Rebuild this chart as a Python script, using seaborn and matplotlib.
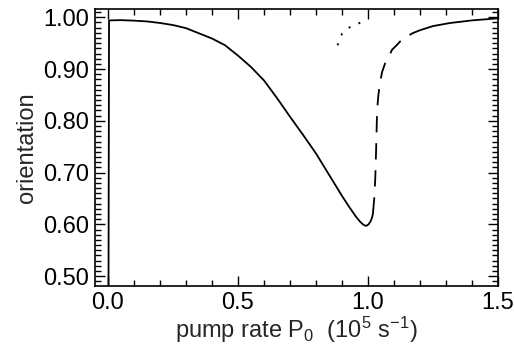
import matplotlib
matplotlib.use("Agg")
import matplotlib.pyplot as plt
import seaborn as sns
import pandas as pd
from matplotlib.ticker import MultipleLocator

# Stable lower branch (solid)
solid_x = [0.0, 0.004, 0.05, 0.10, 0.15, 0.20, 0.25, 0.30, 0.35, 0.40, 0.45, 0.50, 0.55,
           0.60, 0.65, 0.70, 0.75, 0.80, 0.85, 0.90, 0.93, 0.955, 0.97, 0.983, 0.993,
           1.002, 1.010, 1.016, 1.019]
solid_y = [0.0, 0.994, 0.9945, 0.9935, 0.992, 0.989, 0.985, 0.979, 0.969, 0.959, 0.946,
           0.926, 0.904, 0.878, 0.844, 0.808, 0.773, 0.737, 0.696, 0.655, 0.632, 0.614,
           0.605, 0.599, 0.597, 0.600, 0.606, 0.614, 0.621]
# Unstable branch (dashed)
dashed_x = [1.019, 1.024, 1.028, 1.031, 1.033, 1.035, 1.040, 1.046, 1.054, 1.065, 1.078,
            1.092, 1.11, 1.125, 1.143, 1.16, 1.175]
dashed_y = [0.621, 0.650, 0.690, 0.740, 0.780, 0.821, 0.850, 0.873, 0.894, 0.910, 0.921,
            0.937, 0.946, 0.954, 0.962, 0.966, 0.970]
# Upper stable branch (solid)
upper_x = [1.175, 1.20, 1.25, 1.316, 1.40, 1.45, 1.50]
upper_y = [0.970, 0.975, 0.983, 0.989, 0.994, 0.996, 0.998]
# Dotted branch
dotted_x = [0.883, 0.888, 0.893, 0.900, 0.909, 0.920, 0.935, 0.950, 0.962, 0.980, 0.998]
dotted_y = [0.946, 0.954, 0.961, 0.968, 0.974, 0.978, 0.982, 0.985, 0.988, 0.991, 0.993]

xticks = [0.0, 0.5, 1.0, 1.5]
xticklabels = ["0.0", "0.5", "1.0", "1.5"]
yticks = [0.5, 0.6, 0.7, 0.8, 0.9, 1.0]
yticklabels = ["0.50", "0.60", "0.70", "0.80", "0.90", "1.00"]

sns.set_style("ticks")
plt.rcParams["font.family"] = ["Liberation Sans", "DejaVu Sans"]
plt.rcParams["mathtext.fontset"] = "custom"
plt.rcParams["mathtext.rm"] = "Liberation Sans"
plt.rcParams["mathtext.it"] = "Liberation Sans"

fig = plt.figure(figsize=(5.14, 3.52), dpi=100)
ax = fig.add_axes([95 / 514, 1 - 286 / 352, (498 - 95) / 514, (286 - 9) / 352])

lw = 1.3
sns.lineplot(data=pd.DataFrame({"x": solid_x, "y": solid_y}), x="x", y="y", sort=False,
             estimator=None, color="black", lw=lw, ax=ax)
sns.lineplot(data=pd.DataFrame({"x": dashed_x, "y": dashed_y}), x="x", y="y", sort=False,
             estimator=None, color="black", lw=lw, ax=ax)
ax.lines[-1].set_dashes((9, 6))
sns.lineplot(data=pd.DataFrame({"x": upper_x, "y": upper_y}), x="x", y="y", sort=False,
             estimator=None, color="black", lw=lw, ax=ax)
sns.lineplot(data=pd.DataFrame({"x": dotted_x, "y": dotted_y}), x="x", y="y", sort=False,
             estimator=None, color="black", lw=1.4, ax=ax)
ax.lines[-1].set_dashes((1, 4.5))

ax.set_xlim(-0.05, 1.5)
ax.set_ylim(0.481, 1.016)
ax.set_xticks(xticks)
ax.set_xticklabels(xticklabels)
ax.set_yticks(yticks)
ax.set_yticklabels(yticklabels)
ax.xaxis.set_minor_locator(MultipleLocator(0.1))
ax.yaxis.set_minor_locator(MultipleLocator(0.01))
ax.tick_params(which="both", direction="in", top=True, right=True, labelsize=17,
               colors="black", width=1.0)
ax.tick_params(which="major", length=7, pad=4)
ax.tick_params(which="minor", length=4)
for s in ax.spines.values():
    s.set_linewidth(1.2)
    s.set_color("black")

ax.set_xlabel(r"pump rate P$_0$  (10$^5$ s$^{-1}$)", fontsize=17, labelpad=1)
ax.set_ylabel("orientation", fontsize=17, labelpad=4)

fig.savefig("out.png", dpi=100)
